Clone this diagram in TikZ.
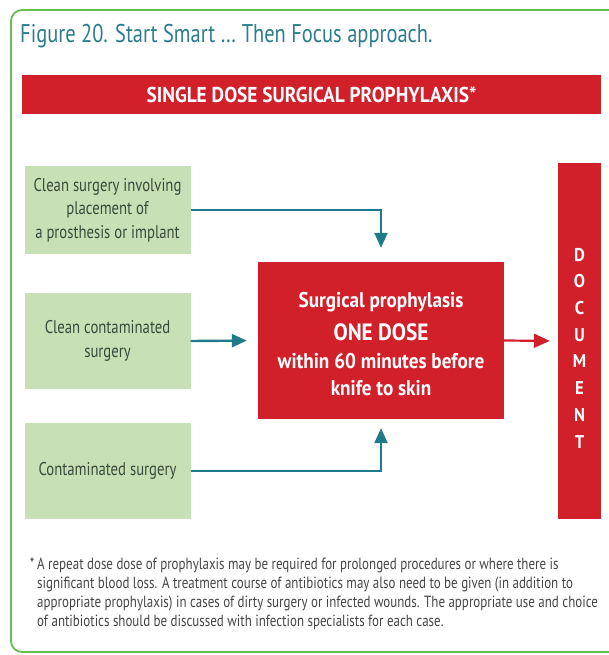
\documentclass[tikz,border=0pt]{standalone}
\usepackage{fontspec}
\setmainfont{PT Sans}[FakeStretch=0.8, BoldFeatures={FakeStretch=0.9}]
\usetikzlibrary{positioning,arrows.meta}
\definecolor{ssred}{HTML}{D2202A}
\definecolor{ssteal}{HTML}{1F7B8C}
\definecolor{sstitle}{HTML}{2B7D8E}
\definecolor{ssgreen}{HTML}{C7E0B6}
\definecolor{ssframe}{HTML}{66BD50}
\definecolor{sstext}{HTML}{3A4A3A}
\definecolor{ssnote}{HTML}{454545}
\tikzset{
  casebox/.style ={rectangle, fill=ssgreen, text=sstext, align=center, inner sep=2pt,
                   minimum width=166pt, font=\fontsize{18.4}{23.5}\selectfont},
  dosebox/.style ={rectangle, fill=ssred, inner sep=0pt, minimum width=246pt, minimum height=157pt},
  doselabel/.style={text=white, align=center, inner sep=0pt,
                   font=\bfseries\fontsize{21.3}{28}\selectfont},
  banner/.style  ={rectangle, fill=ssred, text=white, inner sep=0pt,
                   minimum width=579pt, minimum height=39pt,
                   font=\bfseries\fontsize{21.5}{24}\selectfont},
  docbar/.style  ={rectangle, fill=ssred, inner sep=0pt, minimum width=43pt, minimum height=356pt},
  doclabel/.style={text=white, align=center, inner sep=0pt,
                   font=\bfseries\fontsize{18.5}{26.7}\selectfont},
  tarr/.style    ={-{Triangle[length=15pt,width=13pt]}, line width=2.4pt, draw=ssteal},
  rarr/.style    ={-{Triangle[length=16pt,width=14pt]}, line width=2.2pt, draw=ssred},
}

\begin{document}
\begin{tikzpicture}[x=1pt,y=-1pt]
  \useasboundingbox (0,0) rectangle (609,655);
  \draw[ssframe, line width=1.8pt, rounded corners=11pt] (640,652) -- (11,652) -- (11,10) -- (640,10);

  \node[anchor=base west, text=sstitle, inner sep=0pt, font=\fontsize{25.6}{28}\selectfont] (title) at (20,43)
    {Figure 20. Start Smart \dots\ Then Focus approach.};
  \node[banner] (head) at (311.5,94.5) {SINGLE DOSE SURGICAL PROPHYLAXIS*};

  % surgery classes on the left
  \node[casebox, minimum height=88pt] (clean) at (107.5,210) {Clean surgery involving\\placement of\\a prosthesis or implant};
  \node[casebox, minimum height=96pt] (cleancont) at (107.5,341) {Clean contaminated\\surgery};
  \node[casebox, minimum height=96pt] (contam) at (107.5,471) {Contaminated surgery};

  \node[dosebox] (dose) at (381,340.5) {};
  \node[doselabel] (dosetext) at ([yshift=-3.5pt]dose.center) {Surgical prophylasis\\[5pt]
    {\fontsize{23.6}{28}\selectfont ONE DOSE}\\[0pt]
    within 60 minutes before\\[-1pt] knife to skin};
  \node[docbar] (doc) at (579.5,341) {};
  \node[doclabel] (doctext) at ([yshift=-7pt]doc.center) {D\\O\\C\\U\\M\\E\\N\\T};

  \draw[tarr, shorten >=14pt] (clean.east) -| (dose.north);
  \draw[tarr, shorten >=11pt] (cleancont.east) -- (dose.west);
  \draw[tarr, shorten >=9pt] (contam.east) -| (dose.south);
  \draw[rarr, shorten >=8pt] (dose.east) -- (doc.west);

  \node[anchor=base west, align=left, text=ssnote, inner sep=0pt,
        font=\fontsize{16.2}{19}\selectfont] (note) at (37,626)
    {\llap{*\,}A repeat dose dose of prophylaxis may be required for prolonged procedures or where there is\\
     significant blood loss. A treatment course of antibiotics may also need to be given (in addition to\\
     appropriate prophylaxis) in cases of dirty surgery or infected wounds. The appropriate use and choice\\
     of antibiotics should be discussed with infection specialists for each case.};
\end{tikzpicture}
\end{document}
